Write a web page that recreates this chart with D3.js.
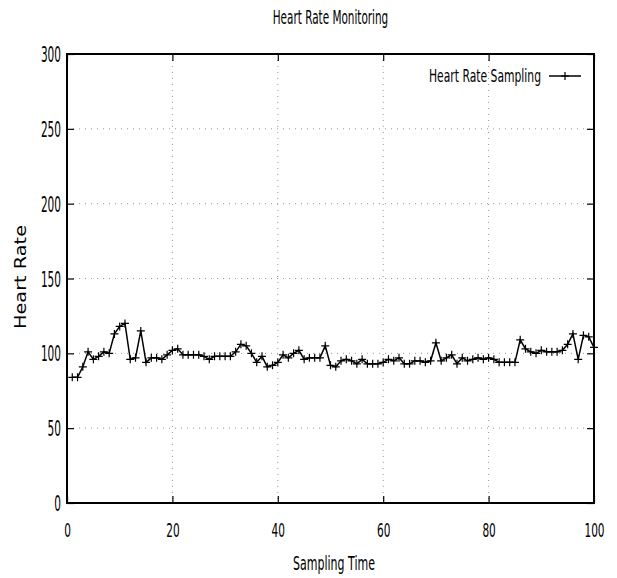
<!DOCTYPE html>
<html>
<head>
<meta charset="utf-8">
<script src="https://d3js.org/d3.v7.min.js"></script>
<style>
  body { margin: 0; background: #fff; }
  text { font-family: "DejaVu Sans", sans-serif; fill: #000; }
</style>
</head>
<body>
<div id="chart"></div>
<script>
// Chart data
var sampleTimes = d3.range(1, 101);
var heartRates = [
  84, 84, 91, 101, 96, 98, 101, 100, 113, 118,
  120, 96, 97, 115, 94, 97, 97, 96, 99, 102,
  103, 99, 99, 99, 99, 98, 96, 98, 98, 98,
  98, 101, 106, 105, 100, 94, 98, 91, 92, 94,
  99, 97, 100, 102, 96, 97, 97, 97, 105, 92,
  91, 95, 96, 95, 93, 96, 93, 93, 93, 94,
  96, 95, 97, 93, 93, 95, 95, 94, 95, 107,
  95, 97, 99, 93, 97, 95, 96, 97, 96, 97,
  96, 94, 94, 94, 94, 109, 103, 101, 100, 102,
  101, 101, 101, 102, 106, 113, 96, 112, 111, 104
];
var xTicks = [0, 20, 40, 60, 80, 100];
var yTicks = [0, 50, 100, 150, 200, 250, 300];

var svgWidth = 617;
var svgHeight = 578;

var margin = { top: 54, right: 23, bottom: 75, left: 67 };
var width = svgWidth - margin.left - margin.right;
var height = svgHeight - margin.top - margin.bottom;

// narrow gnuplot-like text: squeeze horizontally to a width per character
function narrow(sel, perChar) {
  sel.each(function() {
    var t = d3.select(this);
    var x = +t.attr("x") || 0;
    var y = +t.attr("y") || 0;
    var k = (t.text().length * perChar) / this.getComputedTextLength();
    t.attr("x", 0).attr("y", 0)
      .attr("transform", `translate(${x}, ${y}) scale(${k}, 1)`);
  });
}

var svg = d3.select("#chart")
  .append("svg")
  .attr("width", svgWidth)
  .attr("height", svgHeight);

var chartGroup = svg.append("g")
  .attr("transform", `translate(${margin.left}, ${margin.top})`);

var xScale = d3.scaleLinear().domain([0, 100]).range([0, width]);
var yScale = d3.scaleLinear().domain([0, 300]).range([height, 0]);

// dotted grid
chartGroup.selectAll(".xgrid")
  .data(xTicks.slice(1, -1))
  .enter()
  .append("line")
  .attr("x1", d => xScale(d)).attr("x2", d => xScale(d))
  .attr("y1", 0).attr("y2", height)
  .attr("stroke", "#999").attr("stroke-width", 1)
  .attr("stroke-dasharray", "1,5");

chartGroup.selectAll(".ygrid")
  .data(yTicks.slice(1, -1))
  .enter()
  .append("line")
  .attr("y1", d => yScale(d)).attr("y2", d => yScale(d))
  .attr("x1", 0).attr("x2", width)
  .attr("stroke", "#999").attr("stroke-width", 1)
  .attr("stroke-dasharray", "1,5");

// axes with inward ticks, mirrored on top/right
var bottomAxis = d3.axisBottom(xScale).tickValues(xTicks).tickSizeInner(-7).tickSizeOuter(0);
var topAxis = d3.axisTop(xScale).tickValues(xTicks).tickSizeInner(-7).tickSizeOuter(0).tickFormat("");
var leftAxis = d3.axisLeft(yScale).tickValues(yTicks).tickSizeInner(-7).tickSizeOuter(0);
var rightAxis = d3.axisRight(yScale).tickValues(yTicks).tickSizeInner(-7).tickSizeOuter(0).tickFormat("");

var xAxis = chartGroup.append("g").attr("transform", `translate(0, ${height})`).call(bottomAxis);
chartGroup.append("g").call(topAxis);
var yAxis = chartGroup.append("g").call(leftAxis);
chartGroup.append("g").attr("transform", `translate(${width}, 0)`).call(rightAxis);

chartGroup.selectAll(".tick line").attr("stroke", "#000").attr("stroke-width", 1.2);
chartGroup.selectAll(".domain").remove();

xAxis.selectAll(".tick text")
  .attr("y", 34).attr("dy", null)
  .attr("font-family", null).attr("font-size", null)
  .style("font-size", "20px")
  .call(narrow, 6.7);

yAxis.selectAll(".tick text")
  .attr("x", -6).attr("dy", "0.36em")
  .attr("font-family", null).attr("font-size", null)
  .style("font-size", "21px")
  .call(narrow, 6.7);

// border
chartGroup.append("rect")
  .attr("width", width).attr("height", height)
  .attr("fill", "none").attr("stroke", "#000").attr("stroke-width", 2);

// line + points
var line = d3.line()
  .x((d, i) => xScale(sampleTimes[i]))
  .y(d => yScale(d));

chartGroup.append("path")
  .datum(heartRates)
  .attr("fill", "none")
  .attr("stroke", "#000")
  .attr("stroke-width", 1.5)
  .attr("d", line);

var crossPath = "M-4,0H4M0,-4V4";
chartGroup.selectAll(".pt")
  .data(heartRates)
  .enter()
  .append("path")
  .attr("transform", (d, i) => `translate(${xScale(sampleTimes[i])}, ${yScale(d)})`)
  .attr("d", crossPath)
  .attr("stroke", "#000")
  .attr("stroke-width", 1.2);

// legend
var legend = svg.append("g").attr("transform", "translate(0, 76)");
legend.append("text")
  .attr("x", 541).attr("y", 6)
  .attr("text-anchor", "end")
  .style("font-size", "18px")
  .text("Heart Rate Sampling")
  .call(narrow, 5.9);
legend.append("line")
  .attr("x1", 549).attr("x2", 581)
  .attr("y1", 0).attr("y2", 0)
  .attr("stroke", "#000").attr("stroke-width", 1.5);
legend.append("path")
  .attr("transform", "translate(565, 0)")
  .attr("d", crossPath)
  .attr("stroke", "#000").attr("stroke-width", 1.2);

// titles
svg.append("text")
  .attr("x", 330.5).attr("y", 24)
  .attr("text-anchor", "middle")
  .style("font-size", "19px")
  .text("Heart Rate Monitoring")
  .call(narrow, 5.5);

svg.append("text")
  .attr("x", 334).attr("y", 570)
  .attr("text-anchor", "middle")
  .style("font-size", "19px")
  .text("Sampling Time")
  .call(narrow, 6.3);

svg.append("text")
  .attr("transform", "translate(26, 277) rotate(-90)")
  .attr("text-anchor", "middle")
  .style("font-size", "15px")
  .attr("textLength", 104)
  .attr("lengthAdjust", "spacingAndGlyphs")
  .text("Heart Rate");
</script>
</body>
</html>
